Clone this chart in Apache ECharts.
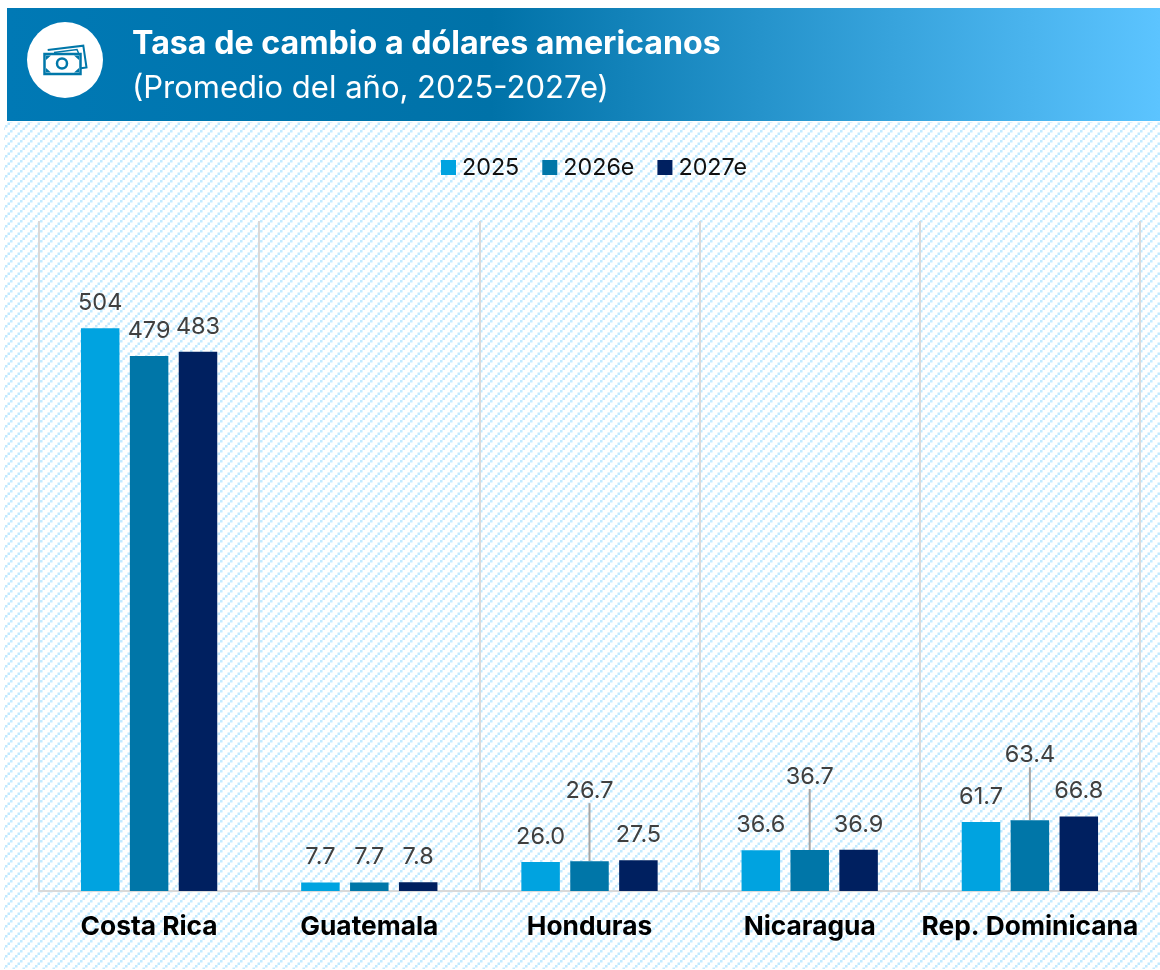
<!DOCTYPE html>
<html><head><meta charset="utf-8">
<style>html,body{margin:0;padding:0;background:#fff}#c{width:1160px;height:970px}</style>
<script src="https://cdn.jsdelivr.net/npm/echarts@6/dist/echarts.min.js"></script>
</head><body><div id="c"></div>
<script>
const categories = ['Costa Rica','Guatemala','Honduras','Nicaragua','Rep. Dominicana'];
const years = ['2025','2026e','2027e'];
const values2025 = [504, 7.7, 26.0, 36.6, 61.7];
const values2026 = [479, 7.7, 26.7, 36.7, 63.4];
const values2027 = [483, 7.8, 27.5, 36.9, 66.8];
const labels2025 = ['504','7.7','26.0','36.6','61.7'];
const labels2026 = ['479','7.7','26.7','36.7','63.4'];
const labels2027 = ['483','7.8','27.5','36.9','66.8'];
const colors = ['#00A3E0','#0076A8','#002060'];
const FONT = 'Inter, sans-serif';

// hatch tile
const tile = document.createElement('canvas');
tile.width = tile.height = 10;
const tc = tile.getContext('2d');
tc.fillStyle = '#fff'; tc.fillRect(0,0,10,10);
tc.fillStyle = '#C2EAFF';
for (let i=0;i<4;i++) for (let j=0;j<4;j++) if ((i+j)%4===0) tc.fillRect(i*2.5,j*2.5,2.5,2.5);

const leader = {2:-39, 3:-42, 4:-34}; // lifted labels of the middle series
const leaderPad = 6;
function mk(name, vals, labs, idx){
  const s = {
    name, type:'bar', barWidth:38.5, barGap:'27%',
    itemStyle:{color:colors[idx]},
    data: vals.map((v,i)=> (idx===1 && leader[i]!==undefined)
      ? {value:v, label:{padding:[0,0,leaderPad,0]}, labelLine:{show:true, lineStyle:{color:'#A6A6A6', width:2}}}
      : v),
    label:{show:true, position:'top', distance:13, color:'#404040', fontFamily:FONT, fontSize:23.5,
      formatter:p=>labs[p.dataIndex]},
  };
  if (idx===1){
    s.labelLayout = p => leader[p.dataIndex]!==undefined ? {dy:leader[p.dataIndex]} : {};
  }
  return s;
}
const chart = echarts.init(document.getElementById('c'), null, {renderer:'canvas'});
const ic = '#0077A9';
chart.setOption({
  animation:false,
  backgroundColor:'#fff',
  title:[
    {text:'Tasa de cambio a dólares americanos', left:132, top:28, padding:0, textStyle:{color:'#fff',fontFamily:FONT,fontWeight:'bold',fontSize:32.2}},
    {text:'(Promedio del año, 2025-2027e)', left:132, top:73, padding:0, textStyle:{color:'#fff',fontFamily:FONT,fontWeight:'normal',fontSize:31}}
  ],
  legend:{top:151, left:436, itemWidth:15, itemHeight:15, itemGap:23, icon:'rect',
    textStyle:{color:'#111',fontFamily:FONT,fontSize:23.3, padding:[0,0,0,1]}, data:years},
  grid:{left:39, right:20, top:221, bottom:79, containLabel:false},
  xAxis:{type:'category', data:categories,
    axisLine:{lineStyle:{color:'#D9D9D9',width:2}}, axisTick:{show:false},
    splitLine:{show:true, lineStyle:{color:'#D9D9D9',width:2}},
    axisLabel:{color:'#000',fontFamily:FONT,fontWeight:'bold',fontSize:26.3,margin:23,interval:0}},
  yAxis:{type:'value', min:0, max:600, show:false, splitLine:{show:false}},
  series:[mk(years[0],values2025,labels2025,0), mk(years[1],values2026,labels2026,1), mk(years[2],values2027,labels2027,2)],
  graphic:[
    {type:'rect', z:-10, shape:{x:4,y:122,width:1156,height:847}, style:{fill:{image:tile,repeat:'repeat'}}},
    {type:'rect', z:-9, shape:{x:7,y:8,width:1153,height:113},
      style:{fill:new echarts.graphic.LinearGradient(0,0,1,0,[{offset:0,color:'#0079B5'},{offset:0.42,color:'#0072A8'},{offset:1,color:'#5CC4FF'}])}},
    {type:'circle', z:-8, shape:{cx:65,cy:60,r:38}, style:{fill:'#fff'}},
    {type:'polyline', z:-7, shape:{points:[[47.7,50],[83.3,45.7],[86.5,67.5],[81,68.3]]}, style:{stroke:ic,lineWidth:2,fill:'none'}},
    {type:'polyline', z:-7, shape:{points:[[54,52.5],[77,49.5],[78.5,53]]}, style:{stroke:ic,lineWidth:1.5,fill:'none'}},
    {type:'rect', z:-7, shape:{x:44.5,y:54,width:36,height:20}, style:{stroke:ic,lineWidth:2.5,fill:'#fff'}},
    {type:'circle', z:-6, shape:{cx:62,cy:63.5,r:5}, style:{stroke:ic,lineWidth:2.5,fill:'none'}},
    {type:'polygon', z:-6, shape:{points:[[46,55.5],[51,55.5],[46,60]]}, style:{fill:ic}},
    {type:'polygon', z:-6, shape:{points:[[79,55.5],[74,55.5],[79,60]]}, style:{fill:ic}},
    {type:'polygon', z:-6, shape:{points:[[46,72.5],[51,72.5],[46,68]]}, style:{fill:ic}},
    {type:'polygon', z:-6, shape:{points:[[79,72.5],[74,72.5],[79,68]]}, style:{fill:ic}}
  ]
});
</script></body></html>
